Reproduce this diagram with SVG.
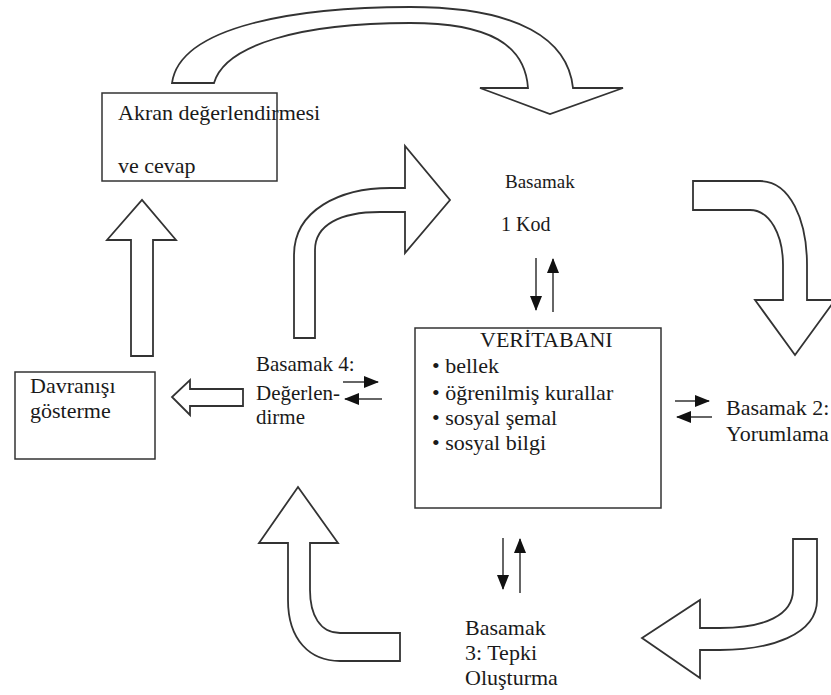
<svg xmlns="http://www.w3.org/2000/svg" width="831" height="695" viewBox="0 0 831 695">
<style>
.bg{fill:#fff}
.box{fill:#fff;stroke:#333;stroke-width:1.5}
.big{fill:#fff;stroke:#333;stroke-width:1.8;stroke-linejoin:miter}
.thin{stroke:#333;stroke-width:1.5;fill:none}
.t{font-family:'Liberation Serif','DejaVu Serif',serif;font-size:22px;fill:#1a1a1a}
.s19{font-size:19px}
.s20{font-size:20px}
.s21{font-size:21px}
</style>
<defs>
<marker id="ah" markerUnits="userSpaceOnUse" markerWidth="15" markerHeight="12" refX="14" refY="6" orient="auto">
<path d="M0,0 L15,6 L0,12 Z" fill="#111"/>
</marker>
</defs>
<rect class="bg" x="0" y="0" width="831" height="695"/>

<g id="connectors">
<path id="arc-top" class="big" d="M172,83 C180,25 300,7 410,7 C520,7 568,40 573,88 L623,88 L550,114 L480,88 L528,88 C525,45 490,23 410,23 C300,23 225,45 214,83 Z"/>
<path id="arc-mid" class="big" d="M294,338 L294,255 C294,210 340,188 390,188 L405,188 L405,146 L450,200 L405,253 L405,212 L380,212 C340,212 315,225 315,250 L315,338 Z"/>
<path id="arc-right" class="big" d="M693,181 L760,181 C790,181 807,220 807,265 L807,300 L835,300 L795,355 L755,300 L783,300 L783,265 C783,235 770,210 750,210 L693,210 Z"/>
<path id="arc-bottom-right" class="big" d="M793,539 L817,539 L817,600 C817,635 770,650 720,650 L700,650 L700,678 L642,638 L700,600 L700,628 L720,628 C765,628 793,615 793,590 Z"/>
<path id="arc-bottom-left" class="big" d="M400,633 L340,633 C320,633 310,615 310,590 L310,543 L338,543 L298,487 L259,543 L288,543 L288,600 C288,640 310,661 340,661 L400,661 Z"/>
<path id="up-left" class="big" d="M131,356 L131,240 L107,240 L142,200 L176,240 L153,240 L153,356 Z"/>
<path id="left-arrow" class="big" d="M243,389 L190,389 L190,380 L172,397 L190,415 L190,406 L243,406 Z"/>

<line class="thin" x1="536" y1="258" x2="536" y2="310" marker-end="url(#ah)"/>
<line class="thin" x1="553" y1="312" x2="553" y2="259" marker-end="url(#ah)"/>
<line class="thin" x1="675" y1="401" x2="709" y2="401" marker-end="url(#ah)"/>
<line class="thin" x1="712" y1="417" x2="677" y2="417" marker-end="url(#ah)"/>
<line class="thin" x1="503" y1="538" x2="503" y2="589" marker-end="url(#ah)"/>
<line class="thin" x1="520" y1="593" x2="520" y2="539" marker-end="url(#ah)"/>
<line class="thin" x1="343" y1="382" x2="378" y2="382" marker-end="url(#ah)"/>
<line class="thin" x1="382" y1="399" x2="345" y2="399" marker-end="url(#ah)"/>
</g>

<g id="akran">
<rect class="box" x="102" y="93" width="175" height="88"/>
<text class="t" x="118" y="120">Akran değerlendirmesi</text>
<text class="t" x="118" y="173">ve cevap</text>
</g>

<g id="basamak1">
<text class="t s19" x="505" y="188">Basamak</text>
<text class="t s20" x="501" y="231">1 Kod</text>
</g>

<g id="veritabani">
<rect class="box" x="415" y="328" width="246" height="180"/>
<text class="t" x="480" y="347">VERİTABANI</text>
<text class="t" x="432" y="373">• bellek</text>
<text class="t" x="432" y="400">• öğrenilmiş kurallar</text>
<text class="t" x="432" y="425">• sosyal şemal</text>
<text class="t" x="432" y="450">• sosyal bilgi</text>
</g>

<g id="basamak2">
<text class="t" x="726" y="415">Basamak 2:</text>
<text class="t" x="726" y="441">Yorumlama</text>
</g>

<g id="basamak3">
<text class="t" x="465" y="635">Basamak</text>
<text class="t" x="465" y="660">3: Tepki</text>
<text class="t" x="465" y="685">Oluşturma</text>
</g>

<g id="basamak4">
<text class="t s21" x="256" y="371">Basamak 4:</text>
<text class="t s21" x="256" y="400">Değerlen-</text>
<text class="t s21" x="256" y="424">dirme</text>
</g>

<g id="davranis">
<rect class="box" x="15" y="372" width="140" height="87"/>
<text class="t" x="30" y="393">Davranışı</text>
<text class="t" x="30" y="418">gösterme</text>
</g>
</svg>
